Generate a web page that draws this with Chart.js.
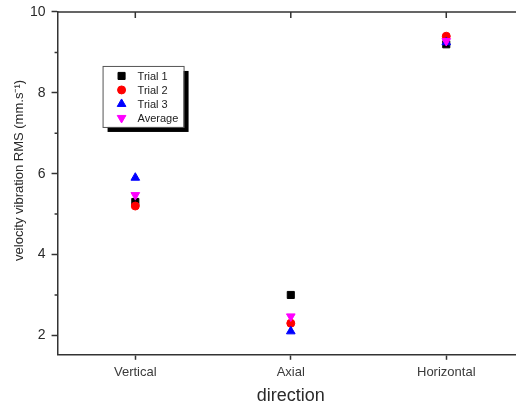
<!DOCTYPE html>
<html>
<head>
<meta charset="utf-8">
<script src="https://cdn.jsdelivr.net/npm/chart.js@4.4.1/dist/chart.umd.min.js"></script>
<style>
    html, body { margin: 0; padding: 0; background: #fff; overflow: hidden; }
    body { width: 516px; height: 406px; }
    .chart-wrap { width: 532px; height: 406px; position: relative; }
</style>
</head>
<body>
<div class="chart-wrap"><canvas id="vibrationChart"></canvas></div>
<script>
const directions = ['Vertical', 'Axial', 'Horizontal'];
const trial1 = [5.3, 3.0, 9.2];
const trial2 = [5.2, 2.3, 9.4];
const trial3 = [5.9, 2.1, 9.25];
const average = [5.47, 2.47, 9.28];
const yMajorTicks = [2, 4, 6, 8, 10];
const yMinorTicks = [3, 5, 7, 9];
const yTitle = 'velocity vibration RMS (mm.s\u207B\u00B9)';

const axisColor = '#333333';
const textColor = '#3a3a3a';
const fontFamily = '"Liberation Sans", Arial, sans-serif';

const series = [
    { label: 'Trial 1', data: trial1, color: '#000000', style: 'rect', radius: 5, rotation: 0 },
    { label: 'Trial 2', data: trial2, color: '#ff0000', style: 'circle', radius: 4, rotation: 0 },
    { label: 'Trial 3', data: trial3, color: '#0000ff', style: 'triangle', radius: 5, rotation: 0 },
    { label: 'Average', data: average, color: '#ff00ff', style: 'triangle', radius: 5, rotation: 180 },
];

// frame, mirrored ticks, minor ticks, y title and the boxed legend inside the plot
const framePlugin = {
    id: 'frame',
    afterDraw(chart) {
        const { ctx, chartArea: area, scales: { x, y } } = chart;

        ctx.save();
        ctx.strokeStyle = axisColor;
        ctx.lineWidth = 1.5;
        ctx.beginPath();
        ctx.moveTo(area.left, area.top);
        ctx.lineTo(area.right, area.top);
        ctx.lineTo(area.right, area.bottom);

        directions.forEach((name, i) => {
            const px = x.getPixelForValue(i);
            ctx.moveTo(px, area.top);
            ctx.lineTo(px, area.top + 6);
        });

        yMajorTicks.forEach((value) => {
            const py = y.getPixelForValue(value);
            ctx.moveTo(area.right, py);
            ctx.lineTo(area.right - 6, py);
        });

        yMinorTicks.forEach((value) => {
            const py = y.getPixelForValue(value);
            ctx.moveTo(area.left, py);
            ctx.lineTo(area.left - 3, py);
            ctx.moveTo(area.right, py);
            ctx.lineTo(area.right - 3, py);
        });
        ctx.stroke();

        // y title sits a bit above the plot centre in the original
        ctx.save();
        ctx.translate(19, y.getPixelForValue(6.08));
        ctx.rotate(-Math.PI / 2);
        ctx.fillStyle = '#2a2a2a';
        ctx.font = '13px ' + fontFamily;
        ctx.textAlign = 'center';
        ctx.textBaseline = 'middle';
        ctx.fillText(yTitle, 0, 0);
        ctx.restore();

        const boxX = area.left + 45;
        const boxY = area.top + 54;
        const boxW = 81;
        const boxH = 61;

        ctx.fillStyle = '#000000';
        ctx.fillRect(boxX + 5, boxY + 5, boxW, boxH);
        ctx.fillStyle = '#ffffff';
        ctx.fillRect(boxX, boxY, boxW, boxH);
        ctx.lineWidth = 1;
        ctx.strokeStyle = '#555555';
        ctx.strokeRect(boxX + 0.5, boxY + 0.5, boxW, boxH);

        ctx.font = '11px ' + fontFamily;
        ctx.textBaseline = 'middle';
        ctx.textAlign = 'left';

        series.forEach((s, i) => {
            const rowY = boxY + 10 + i * 14;
            ctx.fillStyle = s.color;
            ctx.strokeStyle = s.color;
            ctx.lineWidth = 1;
            Chart.helpers.drawPoint(ctx, {
                pointStyle: s.style,
                radius: s.radius,
                rotation: s.rotation,
                borderWidth: 1,
            }, boxX + 19, rowY);
            ctx.fillStyle = '#222222';
            ctx.fillText(s.label, boxX + 35, rowY + 1);
        });

        ctx.restore();
    },
};

new Chart(document.getElementById('vibrationChart'), {
    type: 'line',
    data: {
        labels: directions,
        datasets: series.map((s, i) => ({
            label: s.label,
            data: s.data,
            showLine: false,
            order: series.length - i,
            pointStyle: s.style,
            pointRadius: s.radius,
            pointRotation: s.rotation,
            pointBackgroundColor: s.color,
            pointBorderColor: s.color,
            pointBorderWidth: 1,
            borderColor: s.color,
            backgroundColor: s.color,
        })),
    },
    options: {
        responsive: true,
        maintainAspectRatio: false,
        animation: false,
        events: [],
        layout: {
            padding: { left: 24, right: 8, top: 0, bottom: 0 },
        },
        plugins: {
            legend: { display: false },
            tooltip: { enabled: false },
        },
        scales: {
            x: {
                offset: true,
                grid: {
                    display: true,
                    offset: false,
                    drawOnChartArea: false,
                    tickLength: 5,
                    tickColor: axisColor,
                    tickWidth: 1.5,
                },
                border: { color: axisColor, width: 1.5 },
                ticks: {
                    color: textColor,
                    padding: 5,
                    font: { family: fontFamily, size: 13 },
                },
                title: {
                    display: true,
                    text: 'direction',
                    color: '#2a2a2a',
                    padding: { top: 0, bottom: -1 },
                    font: { family: fontFamily, size: 18 },
                },
            },
            y: {
                min: 1.52,
                max: 10,
                grid: {
                    display: true,
                    drawOnChartArea: false,
                    tickLength: 6,
                    tickColor: axisColor,
                    tickWidth: 1.5,
                },
                border: { color: axisColor, width: 1.5 },
                ticks: {
                    stepSize: 2,
                    includeBounds: false,
                    color: '#2a2a2a',
                    padding: 6,
                    font: { family: fontFamily, size: 14, lineHeight: 0.85 },
                },
            },
        },
    },
    plugins: [framePlugin],
});
</script>
</body>
</html>
